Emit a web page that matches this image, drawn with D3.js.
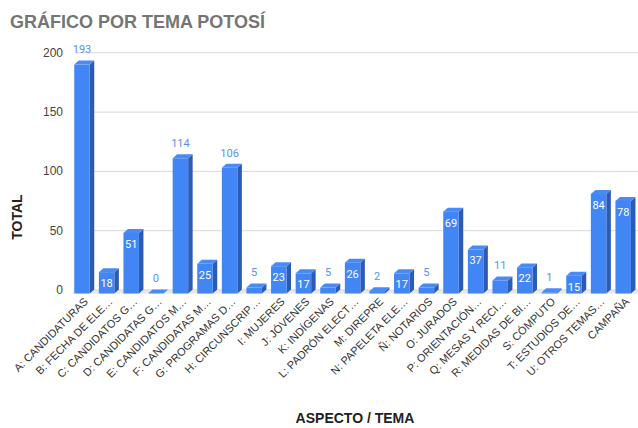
<!DOCTYPE html>
<html>
<head>
<meta charset="utf-8">
<script src="https://cdn.jsdelivr.net/npm/d3@7"></script>
<style>
  body { margin: 0; background: #fff; }
  svg { font-family: "Liberation Sans", Arial, sans-serif; }
</style>
</head>
<body>
<svg id="chart" width="638" height="428"></svg>
<script>
// data
var categories = ['A: CANDIDATURAS', 'B: FECHA DE ELE…', 'C: CANDIDATOS G…', 'D: CANDIDATAS G…',
    'E: CANDIDATOS M…', 'F: CANDIDATAS M…', 'G: PROGRAMAS D…', 'H: CIRCUNSCRIP…',
    'I: MUJERES', 'J: JÓVENES', 'K: INDÍGENAS', 'L: PADRÓN ELECT…', 'M: DIREPRE',
    'N: PAPELETA ELE…', 'Ñ: NOTARIOS', 'O: JURADOS', 'P: ORIENTACIÓN…', 'Q: MESAS Y RECI…',
    'R: MEDIDAS DE BI…', 'S: CÓMPUTO', 'T: ESTUDIOS DE…', 'U: OTROS TEMAS…', 'CAMPAÑA']
var totals = [193, 18, 51, 0, 114, 25, 106, 5, 23, 17, 5, 26, 2, 17, 5, 69, 37, 11, 22, 1, 15, 84, 78]
var yTicks = [0, 50, 100, 150, 200]

var svg = d3.select('#chart')
var depthX = 4.5, depthY = 4
var floorY = 293.5

var x = d3.scaleBand()
    .domain(categories)
    .range([69.7, 635.5])
    .paddingInner(0.37)
    .paddingOuter(0.185)

var y = d3.scaleLinear()
    .domain([0, 200])
    .range([floorY, 56.3])

var data = categories.map(function(c, i) { return {cat: c, v: totals[i]} })

// title
svg.append('text')
    .attr('x', 10).attr('y', 28)
    .attr('font-size', 18).attr('font-weight', 'bold')
    .attr('fill', '#757575')
    .text('GRÁFICO POR TEMA POTOSÍ')

// floor
var floorLeft = 72, floorRight = 638
svg.append('path')
    .attr('d', 'M' + floorLeft + ',' + floorY + 'L' + (floorLeft + depthX) + ',' + (floorY - depthY) +
        'L' + floorRight + ',' + (floorY - depthY) + 'L' + floorRight + ',' + floorY + 'Z')
    .attr('fill', '#e8e8e8')

// gridlines on the back wall
svg.append('g')
    .attr('transform', 'translate(' + (floorLeft + depthX) + ',' + (-depthY) + ')')
    .call(d3.axisLeft(y).tickValues(yTicks).tickSize(-(floorRight - floorLeft - depthX)).tickFormat(''))
    .call(function(g) { g.select('.domain').remove() })
    .call(function(g) { g.selectAll('line').attr('stroke', '#d9d9d9') })

// y tick labels
svg.append('g')
    .attr('transform', 'translate(66,' + (-depthY) + ')')
    .call(d3.axisLeft(y).tickValues(yTicks).tickSize(0).tickPadding(3))
    .call(function(g) { g.select('.domain').remove() })
    .selectAll('text')
    .attr('font-size', 12).attr('fill', '#444')
    .attr('font-family', '"Liberation Sans", Arial, sans-serif')

// bars: side, top, front
var bars = svg.append('g').selectAll('g')
    .data(data)
    .enter()
    .append('g')

bars.append('path')
    .attr('fill', '#2b5cb3')
    .attr('d', function(d) {
        var r = x(d.cat) + x.bandwidth(), t = y(d.v)
        return 'M' + r + ',' + floorY + 'L' + r + ',' + t + 'L' + (r + depthX) + ',' + (t - depthY) +
            'L' + (r + depthX) + ',' + (floorY - depthY) + 'Z'
    })

bars.append('path')
    .attr('fill', '#4a8af5')
    .attr('d', function(d) {
        var l = x(d.cat), r = l + x.bandwidth(), t = y(d.v)
        return 'M' + l + ',' + t + 'L' + (l + depthX) + ',' + (t - depthY) + 'L' + (r + depthX) + ',' + (t - depthY) +
            'L' + r + ',' + t + 'Z'
    })

bars.append('rect')
    .attr('fill', '#4285f4')
    .attr('x', function(d) { return x(d.cat) })
    .attr('y', function(d) { return y(d.v) })
    .attr('width', x.bandwidth())
    .attr('height', function(d) { return floorY - y(d.v) })

// value labels
function inside(d) { return d.v >= 12 && d.v <= 100 }
bars.append('text')
    .attr('x', function(d) { return x(d.cat) + x.bandwidth() / 2 })
    .attr('y', function(d) { return inside(d) ? y(d.v) + 11 : y(d.v) - 15 })
    .attr('dy', '0.35em')
    .attr('text-anchor', 'middle')
    .attr('font-family', 'Roboto, sans-serif')
    .attr('font-size', 11)
    .attr('fill', function(d) { return inside(d) ? '#ffffff' : '#5b8ff2' })
    .text(function(d) { return d.v })

// x tick labels
svg.append('g')
    .attr('transform', 'translate(0,' + (floorY + 6) + ')')
    .call(d3.axisBottom(x).tickSize(0).tickPadding(0))
    .call(function(g) { g.select('.domain').remove() })
    .selectAll('text')
    .attr('font-size', 11).attr('fill', '#333')
    .attr('font-family', '"Liberation Sans", Arial, sans-serif')
    .attr('text-anchor', 'end')
    .attr('dy', '0.35em')
    .attr('transform', 'translate(4,0) rotate(-45)')

// axis titles
svg.append('text')
    .attr('x', 355).attr('y', 423)
    .attr('text-anchor', 'middle')
    .attr('font-size', 14).attr('font-weight', 'bold')
    .attr('fill', '#222')
    .text('ASPECTO / TEMA')

svg.append('text')
    .attr('transform', 'translate(22,217) rotate(-90)')
    .attr('text-anchor', 'middle')
    .attr('font-size', 14).attr('font-weight', 'bold')
    .attr('fill', '#222')
    .text('TOTAL')
</script>
</body>
</html>
